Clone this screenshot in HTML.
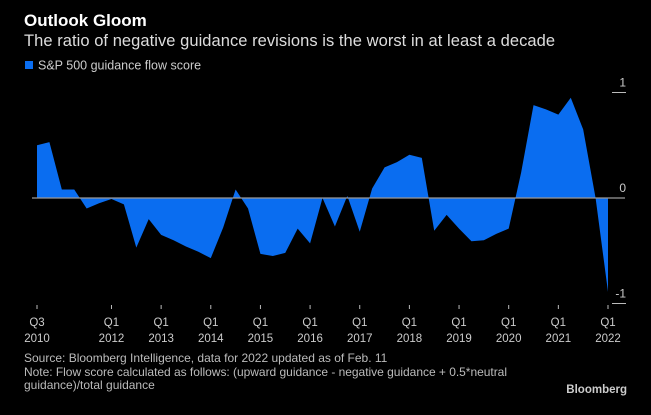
<!DOCTYPE html>
<html><head><meta charset="utf-8"><style>
body{margin:0;background:#000;width:651px;height:410px;overflow:hidden;font-family:"Liberation Sans",sans-serif}
svg text{font-family:"Liberation Sans",sans-serif}
</style></head><body>
<svg width="651" height="410">
<rect width="651" height="410" fill="#000"/>
<text x="24" y="26" fill="#fff" font-size="17" font-weight="bold">Outlook Gloom</text>
<text x="24" y="46" fill="#ddd" font-size="16.5" textLength="531">The ratio of negative guidance revisions is the worst in at least a decade</text>
<rect x="25" y="61" width="8" height="8" fill="#0a6df0"/>
<text x="38" y="69.5" fill="#ccc" font-size="12.5">S&amp;P 500 guidance flow score</text>
<g id="plot"></g>
<text x="24" y="362" fill="#bbb" font-size="12">Source: Bloomberg Intelligence, data for 2022 updated as of Feb. 11</text>
<text x="24" y="376" fill="#bbb" font-size="12" textLength="483">Note: Flow score calculated as follows: (upward guidance - negative guidance + 0.5*neutral</text>
<text x="24" y="389" fill="#bbb" font-size="12">guidance)/total guidance</text>
<text x="627" y="393" fill="#ccc" font-size="11.5" font-weight="bold" text-anchor="end">Bloomberg</text>
</svg>
<script>
const values=[0.5,0.53,0.08,0.08,-0.10,-0.05,-0.01,-0.06,-0.47,-0.2,-0.35,-0.4,-0.46,-0.51,-0.57,-0.28,0.08,-0.1,-0.53,-0.55,-0.52,-0.29,-0.43,0.0,-0.27,0.02,-0.32,0.09,0.29,0.34,0.41,0.38,-0.31,-0.16,-0.29,-0.41,-0.40,-0.34,-0.29,0.24,0.88,0.84,0.79,0.95,0.65,0.0,-0.89];
const tickIdx=[0,6,10,14,18,22,26,30,34,38,42,46];
const tickTop=["Q3","Q1","Q1","Q1","Q1","Q1","Q1","Q1","Q1","Q1","Q1","Q1"];
const tickBottom=["2010","2012","2013","2014","2015","2016","2017","2018","2019","2020","2021","2022"];
const yTicks=[1,0,-1];
const NS="http://www.w3.org/2000/svg";
const g=document.getElementById('plot');
const x=i=>37+i*(608-37)/(values.length-1);
const y=v=>198-v*105.5;
function mk(t,a){const e=document.createElementNS(NS,t);for(const k in a)e.setAttribute(k,a[k]);g.appendChild(e);return e;}
let d=`M${x(0)},${y(0)}`;values.forEach((v,i)=>d+=` L${x(i)},${y(v)}`);d+=` L${x(values.length-1)},${y(0)} Z`;
const area=mk('path',{d:d,fill:'#0a6df0'});


const zl=mk('line',{x1:32,x2:625,y1:y(0),y2:y(0),stroke:'#999','stroke-width':1.2});


yTicks.forEach(v=>{
 if(v!==0){const l=mk('line',{x1:612,x2:626,y1:y(v),y2:y(v),stroke:'#bbb','stroke-width':1});
 
 }
 const t=mk('text',{x:626,y:y(v)-6,fill:'#ccc','font-size':12,'text-anchor':'end'});t.textContent=v;
 
 
});
tickIdx.forEach((idx,k)=>{
 const l=mk('line',{x1:x(idx),x2:x(idx),y1:305,y2:309,stroke:'#bbb'});
 
 
 const t1=mk('text',{x:x(idx),y:326,fill:'#ccc','font-size':11.5,'text-anchor':'middle'});t1.textContent=tickTop[k];
 
 
 const t2=mk('text',{x:x(idx),y:342,fill:'#ccc','font-size':11.5,'text-anchor':'middle'});t2.textContent=tickBottom[k];
 
 
});
</script>
</body></html>
